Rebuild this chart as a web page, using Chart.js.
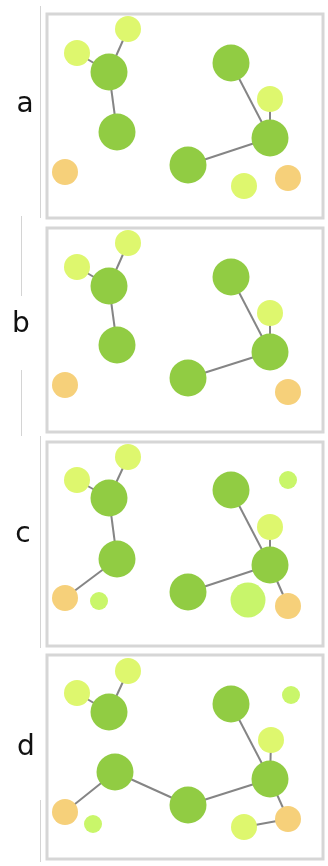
<!DOCTYPE html>
<html>
<head>
<meta charset="utf-8">
<script src="https://cdn.jsdelivr.net/npm/chart.js@4/dist/chart.umd.min.js"></script>
<style>
html, body { margin: 0; padding: 0; overflow: hidden; }
body { background: #fff; width: 328px; height: 866px; position: relative; }
.panel { position: absolute; left: 0; width: 328px; height: 220px; }
.rule { position: absolute; background: #d4d4d4; }
</style>
</head>
<body>
<div class="rule" style="left:40px;top:6px;width:1px;height:212px"></div>
<div class="rule" style="left:21px;top:216px;width:1px;height:80px"></div>
<div class="rule" style="left:21px;top:370px;width:1px;height:66px"></div>
<div class="rule" style="left:40px;top:436px;width:1px;height:212px"></div>
<div class="rule" style="left:40px;top:800px;width:1px;height:62px"></div>
<div class="panel" style="top:6px"><canvas id="chartA" width="328" height="220"></canvas></div>
<div class="panel" style="top:220px"><canvas id="chartB" width="328" height="220"></canvas></div>
<div class="panel" style="top:434px"><canvas id="chartC" width="328" height="220"></canvas></div>
<div class="panel" style="top:645px"><canvas id="chartD" width="328" height="220"></canvas></div>
<script>
// node positions inside each box, [x, y, kind]
const panelLabels = ['a', 'b', 'c', 'd'];

const nodesA = [[30, 39, 'ly'], [81, 15, 'ly'], [62, 58, 'g'], [70, 118, 'g'], [18, 158, 'o'],
  [184, 49, 'g'], [223, 85, 'ly'], [223, 124, 'g'], [141, 151, 'g'], [197, 172, 'ly'], [241, 164, 'o']];
const edgesA = [[0, 2], [1, 2], [2, 3], [5, 7], [6, 7], [8, 7]];

const nodesB = [[30, 39, 'ly'], [81, 15, 'ly'], [62, 58, 'g'], [70, 117, 'g'], [18, 157, 'o'],
  [184, 49, 'g'], [223, 85, 'ly'], [223, 124, 'g'], [141, 150, 'g'], [241, 164, 'o']];
const edgesB = [[0, 2], [1, 2], [2, 3], [5, 7], [6, 7], [8, 7]];

const nodesC = [[30, 38, 'ly'], [81, 15, 'ly'], [62, 56, 'g'], [70, 117, 'g'], [18, 156, 'o'],
  [52, 159, 'lime'], [184, 48, 'g'], [241, 38, 'lime'], [223, 85, 'ly'], [223, 123, 'g'],
  [141, 150, 'g'], [201, 158, 'bigLime'], [241, 164, 'o']];
const edgesC = [[0, 2], [1, 2], [2, 3], [3, 4], [6, 9], [8, 9], [10, 9], [9, 12]];

const nodesD = [[30, 38, 'ly'], [81, 16, 'ly'], [62, 57, 'g'], [68, 117, 'g'], [18, 157, 'o'],
  [46, 169, 'lime'], [184, 49, 'g'], [244, 40, 'lime'], [224, 85, 'ly'], [223, 124, 'g'],
  [141, 150, 'g'], [197, 172, 'ly'], [241, 164, 'o']];
const edgesD = [[0, 2], [1, 2], [3, 4], [3, 10], [10, 9], [6, 9], [8, 9], [9, 12], [11, 12]];

const kindStyle = {
  g: { color: '#91cc43', r: 18.5 },
  ly: { color: '#def76e', r: 13 },
  o: { color: '#f6d07a', r: 13 },
  lime: { color: '#c9f66a', r: 9 },
  bigLime: { color: '#c8f56b', r: 17.5 }
};

// canvas tops are 6, 220, 434, 645; box tops 14, 228, 442, 655
const padTop = [8, 8, 8, 10];
const labelBaseline = [106, 112, 108, 110];
const labelX = [25, 21, 23, 26];

function buildChart(canvasId, idx, nodes, edges) {
  const datasets = [{
    type: 'scatter',
    data: nodes.map(n => ({ x: n[0], y: n[1] })),
    pointRadius: ctx => kindStyle[nodes[ctx.dataIndex][2]].r,
    pointHoverRadius: ctx => kindStyle[nodes[ctx.dataIndex][2]].r,
    pointBackgroundColor: ctx => kindStyle[nodes[ctx.dataIndex][2]].color,
    pointBorderWidth: 0,
    clip: false,
    order: 0
  }];
  edges.forEach(e => {
    datasets.push({
      type: 'line',
      data: [{ x: nodes[e[0]][0], y: nodes[e[0]][1] }, { x: nodes[e[1]][0], y: nodes[e[1]][1] }],
      borderColor: '#858585',
      borderWidth: 2,
      pointRadius: 0,
      fill: false,
      clip: false,
      order: 1
    });
  });

  new Chart(document.getElementById(canvasId), {
    data: { datasets: datasets },
    options: {
      responsive: false,
      animation: false,
      events: [],
      layout: {
        autoPadding: false,
        padding: { left: 47, right: 5, top: padTop[idx], bottom: 220 - 204 - padTop[idx] }
      },
      plugins: { legend: { display: false }, tooltip: { enabled: false } },
      scales: {
        x: { type: 'linear', min: 0, max: 276, display: false },
        y: { type: 'linear', min: 0, max: 204, reverse: true, display: false }
      }
    },
    plugins: [{
      id: 'frame',
      beforeDatasetsDraw(chart) {
        const a = chart.chartArea;
        const ctx = chart.ctx;
        ctx.save();
        ctx.strokeStyle = '#d6d6d6';
        ctx.lineWidth = 3;
        ctx.strokeRect(a.left, a.top, a.right - a.left, a.bottom - a.top);
        ctx.restore();
      },
      afterDraw(chart) {
        const ctx = chart.ctx;
        ctx.save();
        ctx.fillStyle = '#111';
        ctx.font = '28px "DejaVu Sans"';
        ctx.textAlign = 'center';
        ctx.textBaseline = 'alphabetic';
        ctx.fillText(panelLabels[idx], labelX[idx], labelBaseline[idx]);
        ctx.restore();
      }
    }]
  });
}

buildChart('chartA', 0, nodesA, edgesA);
buildChart('chartB', 1, nodesB, edgesB);
buildChart('chartC', 2, nodesC, edgesC);
buildChart('chartD', 3, nodesD, edgesD);
</script>
</body>
</html>
